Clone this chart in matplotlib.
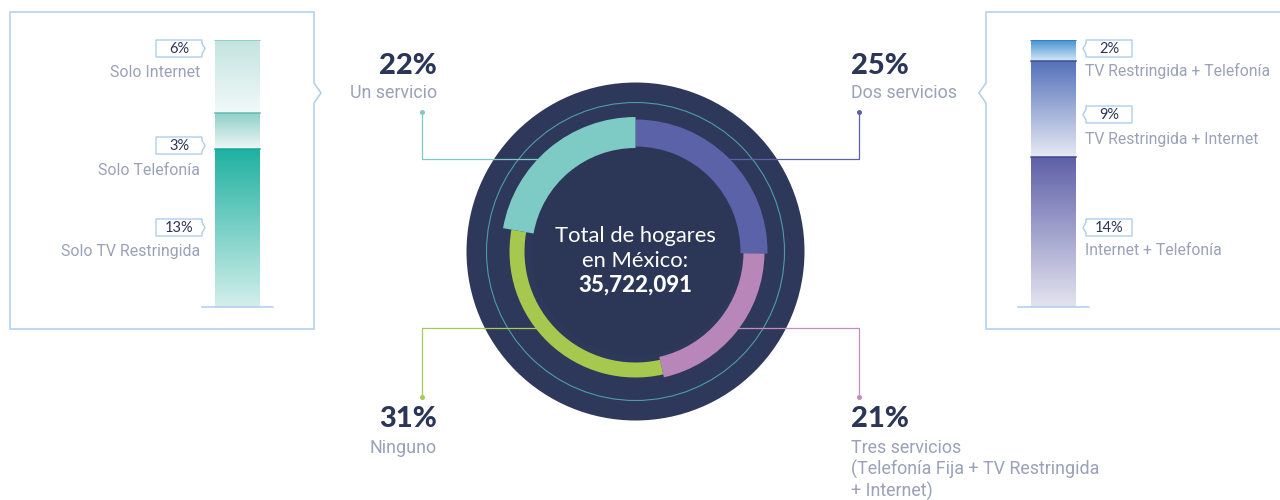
import numpy as np
import matplotlib
matplotlib.use("Agg")
import matplotlib.pyplot as plt
from matplotlib.patches import Wedge, Circle, Polygon
from matplotlib.colors import LinearSegmentedColormap

# ---------------- data ----------------
ring_labels = ["Dos servicios",
               "Tres servicios\n(Telefonía Fija + TV Restringida\n+ Internet)",
               "Ninguno",
               "Un servicio"]
ring_values = [25, 21, 31, 22]          # clockwise from 12 o'clock
total_hogares = 35722091
center_lines = ["Total de hogares", "en México:"]

left_cats = ["Solo TV Restringida", "Solo Telefonía", "Solo Internet"]   # bottom -> top
left_vals = [13, 3, 6]
right_cats = ["Internet + Telefonía", "TV Restringida + Internet", "TV Restringida + Telefonía"]
right_vals = [14, 9, 2]

# ---------------- style ----------------
NAVY = "#2b3558"
GRAY = "#9aa1b8"
FRAME = "#aecdec"
LBL = ["Roboto", "DejaVu Sans"]
NUM = ["Lato", "DejaVu Sans"]

ring_colors = ["#5c62a8", "#b886b9", "#a6c84f", "#7ecac5"]
ring_outer = [132, 129, 126, 134.5]
ring_width = [27, 21, 15, 31]
lead_colors = ["#5c62a8", "#c08fc0", "#a8cc55", "#7ecac5"]

W, H = 1280, 500
fig = plt.figure(figsize=(W / 100, H / 100), dpi=100)
fig.patch.set_facecolor("white")
ax = fig.add_axes([0, 0, 1, 1])
ax.set_xlim(0, W)
ax.set_ylim(0, H)
ax.axis("off")


def Y(y):
    return H - y


# ---------------- donut ----------------
cx, cy = 635.5, Y(251.5)
ax.add_patch(Circle((cx, cy), 169, fc="#2e385a", ec="none", zorder=1))
ax.add_patch(Circle((cx, cy), 104, fc="#2c3657", ec="none", zorder=1))
ax.add_patch(Circle((cx, cy), 149, fill=False, ec="#4e9da3", lw=0.8, zorder=2))

vals = np.array(ring_values, dtype=float)
spans = 360 * vals / vals.sum()
start = 90.0
for i, sp in enumerate(spans):
    t2 = start
    t1 = start - sp
    start = t1
    ax.add_patch(Wedge((cx, cy), ring_outer[i], t1, t2, width=ring_width[i],
                       fc=ring_colors[i], ec="none", zorder=4))

# leader lines: (horizontal start x, corner x, y of horizontal, end y)
leaders = [(700, 859, 159, 112), (720, 859, 328, 397),
           (550, 422, 328, 397), (560, 422, 159, 112)]
for i, (xs, xc, yh, ye) in enumerate(leaders):
    ax.plot([xs, xc, xc], [Y(yh), Y(yh), Y(ye)], color=lead_colors[i], lw=0.9,
            zorder=3, solid_capstyle="butt")
    ax.plot([xc], [Y(ye)], "o", color=lead_colors[i], ms=2.6, zorder=3)

# ring label positions: (x, ha, pct baseline, label baseline)
lab_pos = [(851, "left", 74, 98), (851, "left", 427, 453),
           (437, "right", 427, 453), (437, "right", 74, 98)]
for i, (x, ha, yp, yl) in enumerate(lab_pos):
    ax.text(x, Y(yp), f"{ring_values[i]}%", ha=ha, va="baseline", fontsize=21,
            fontweight="black", color=NAVY, family=NUM)
    for k, line in enumerate(ring_labels[i].split("\n")):
        ax.text(x, Y(yl + 22 * k), line, ha=ha, va="baseline", fontsize=12.9,
                color=GRAY, family=LBL)

ax.text(cx, Y(242), center_lines[0], ha="center", va="baseline", fontsize=15.8,
        color="white", family=NUM, zorder=6)
ax.text(cx, Y(267), center_lines[1], ha="center", va="baseline", fontsize=15.8,
        color="white", family=NUM, zorder=6)
ax.text(cx, Y(292), f"{total_hogares:,}", ha="center", va="baseline", fontsize=16,
        fontweight="black", color="white", family=NUM, zorder=6)

# ---------------- side panels ----------------
ax.add_patch(Polygon([(10, Y(12)), (314, Y(12)), (314, Y(83)), (321, Y(93)),
                      (314, Y(103)), (314, Y(329)), (10, Y(329))], closed=True,
                     fill=False, ec=FRAME, lw=1.1))
ax.add_patch(Polygon([(1290, Y(12)), (986, Y(12)), (986, Y(83)), (979, Y(93)),
                      (986, Y(103)), (986, Y(329)), (1290, Y(329))], closed=False,
                     fill=False, ec=FRAME, lw=1.1))


def pct_box(x0, ytop, side, text):
    x1 = x0 + 46
    yb = ytop + 17
    if side == "right":
        pts = [(x0, ytop), (x1, ytop), (x1, ytop + 3.5), (x1 + 3, ytop + 8.5),
               (x1, yb - 3), (x1, yb), (x0, yb)]
    else:
        pts = [(x1, ytop), (x0, ytop), (x0, ytop + 3.5), (x0 - 3, ytop + 8.5),
               (x0, yb - 3), (x0, yb), (x1, yb)]
    ax.add_patch(Polygon([(p[0], Y(p[1])) for p in pts], closed=True,
                         fc="white", ec=FRAME, lw=1.0, zorder=5))
    ax.text((x0 + x1) / 2, Y(ytop + 9), text, ha="center", va="center",
            fontsize=10.5, color=NAVY, family=NUM, zorder=6)


def draw_bar(xl, xr, ytop, ybot, values, grads, edges):
    bax = fig.add_axes([xl / W, (H - ybot) / H, (xr - xl) / W, (ybot - ytop) / H])
    bax.axis("off")
    total = sum(values)
    bottoms = np.concatenate([[0], np.cumsum(values)[:-1]])
    bars = bax.bar([0.5] * len(values), values, width=45 / (xr - xl),
                   bottom=bottoms, color="none", edgecolor="none")
    g = np.linspace(0, 1, 256).reshape(-1, 1)
    for patch, (cb, ct), ec in zip(bars.patches, grads, edges):
        x, y = patch.get_x(), patch.get_y()
        w, h = patch.get_width(), patch.get_height()
        cmap = LinearSegmentedColormap.from_list("g", [cb, ct])
        im = bax.imshow(g, extent=(x, x + w, y, y + h), origin="lower",
                        cmap=cmap, aspect="auto", interpolation="bilinear")
        im.set_clip_path(patch)
        bax.plot([x, x + w], [y + h, y + h], color=ec, lw=1.1)
    bax.set_xlim(0, 1)
    bax.set_ylim(0, total)
    bax.axhline(0, color=FRAME, lw=1.1, clip_on=False)
    return bax


# left bar
draw_bar(202, 273, 40, 307, left_vals,
         [("#d4efec", "#1fb1a0"), ("#eef7f6", "#8dd0c7"), ("#f2f9f9", "#c3e4e0")],
         ["#17a796", "#63bab0", "#86c9c1"])
left_box_tops = [219, 137, 40]
left_lab_base = [256, 175, 77]
for i, c in enumerate(left_cats):
    pct_box(156, left_box_tops[i], "right", f"{left_vals[i]}%")
    ax.text(200, Y(left_lab_base[i]), c, ha="right", va="baseline", fontsize=11.4,
            color=GRAY, family=LBL)

# right bar
draw_bar(1018, 1089, 40, 307, right_vals,
         [("#e4e4f0", "#5e60a8"), ("#e6eaf4", "#5470b9"), ("#d6e6f5", "#3f8fd2")],
         ["#43468f", "#3d5196", "#2f7cc0"])
right_box_tops = [219, 106, 40]
right_lab_base = [255, 144, 76]
for i, c in enumerate(right_cats):
    pct_box(1086, right_box_tops[i], "left", f"{right_vals[i]}%")
    ax.text(1085, Y(right_lab_base[i]), c, ha="left", va="baseline", fontsize=11.3,
            color=GRAY, family=LBL)

fig.savefig("out.png", dpi=100, facecolor="white")
